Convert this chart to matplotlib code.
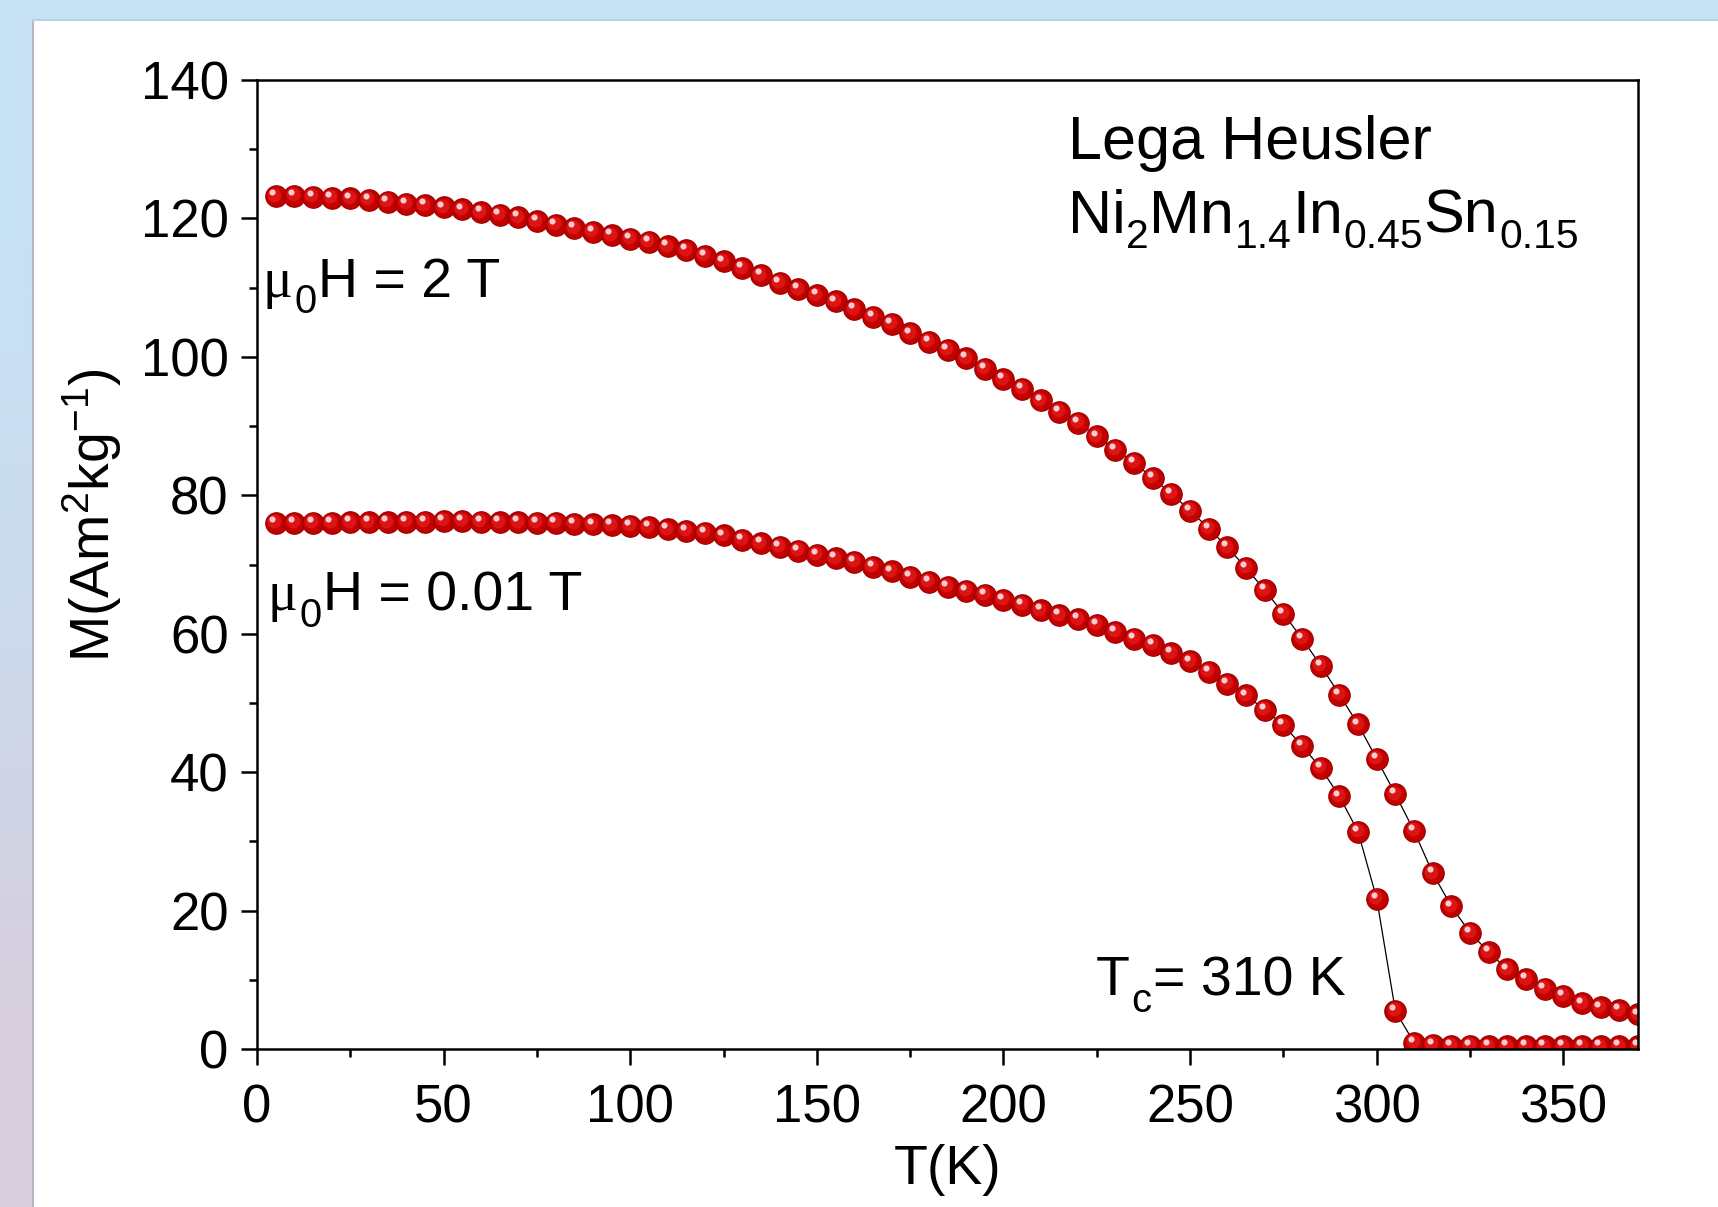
import numpy as np
import matplotlib
matplotlib.use('Agg')
from matplotlib import pyplot as plt
from matplotlib import rc
from matplotlib.patches import Rectangle
from matplotlib.transforms import offset_copy
from matplotlib.ticker import MultipleLocator

# Arial-like font, math text in the same font
rc('font', family='Liberation Sans')
rc('mathtext', fontset='custom', rm='Liberation Sans', it='Liberation Sans:italic',
   bf='Liberation Sans:bold', default='regular')

# temperature (K)
temps = [5, 10, 15, 20, 25, 30, 35, 40, 45, 50,
         55, 60, 65, 70, 75, 80, 85, 90, 95, 100,
         105, 110, 115, 120, 125, 130, 135, 140, 145, 150,
         155, 160, 165, 170, 175, 180, 185, 190, 195, 200,
         205, 210, 215, 220, 225, 230, 235, 240, 245, 250,
         255, 260, 265, 270, 275, 280, 285, 290, 295, 300,
         305, 310, 315, 320, 325, 330, 335, 340, 345, 350,
         355, 360, 365, 370]

# M at mu0H = 2 T
m_2T = [123.2, 123.3, 123.1, 123.0, 122.9, 122.7, 122.4, 122.1, 121.9, 121.6,
        121.3, 120.9, 120.5, 120.2, 119.6, 119.1, 118.6, 118.1, 117.6, 117.1,
        116.6, 116.0, 115.4, 114.6, 113.8, 112.8, 111.8, 110.7, 109.8, 108.9,
        108.0, 106.9, 105.8, 104.8, 103.4, 102.2, 101.0, 99.8, 98.3, 96.8,
        95.4, 93.7, 92.1, 90.5, 88.5, 86.6, 84.7, 82.5, 80.2, 77.8,
        75.2, 72.5, 69.5, 66.3, 62.9, 59.3, 55.4, 51.2, 46.9, 41.9,
        36.8, 31.5, 25.4, 20.6, 16.8, 14.0, 11.5, 10.1, 8.7, 7.7,
        6.6, 6.0, 5.6, 5.0]

# M at mu0H = 0.01 T
m_001T = [76.0, 76.0, 76.0, 76.0, 76.1, 76.1, 76.1, 76.2, 76.2, 76.3,
          76.3, 76.2, 76.1, 76.1, 76.0, 76.0, 75.9, 75.8, 75.7, 75.6,
          75.4, 75.1, 74.9, 74.6, 74.2, 73.6, 73.1, 72.6, 72.0, 71.4,
          70.9, 70.4, 69.7, 69.0, 68.2, 67.5, 66.8, 66.2, 65.6, 64.9,
          64.2, 63.4, 62.7, 62.1, 61.3, 60.3, 59.3, 58.4, 57.2, 56.0,
          54.5, 52.8, 51.1, 49.0, 46.8, 43.8, 40.6, 36.5, 31.4, 21.7,
          5.5, 0.9, 0.6, 0.5, 0.5, 0.4, 0.4, 0.4, 0.4, 0.4,
          0.4, 0.4, 0.4, 0.4]

fig = plt.figure(figsize=(17.18, 12.07), dpi=100)

# background: blue-to-lavender frame with a white sheet on top
bg = fig.add_axes([0, 0, 1, 1], zorder=-10)
bg.axis('off')
grad = np.array([[[0.78, 0.89, 0.96]], [[0.80, 0.86, 0.93]], [[0.84, 0.81, 0.87]]])
bg.imshow(grad, aspect='auto', extent=[0, 1, 0, 1], interpolation='bilinear')
bg.add_patch(Rectangle((33 / 1718, 0), 1, 1 - 20 / 1207, color='white', zorder=5))
bg.plot([33 / 1718, 33 / 1718], [0, 1 - 20 / 1207], color='#b9b3c4', lw=1.5, zorder=6)
bg.plot([33 / 1718, 1], [1 - 20 / 1207, 1 - 20 / 1207], color='#b5d3e6', lw=1.5, zorder=6)
bg.set_xlim(0, 1)
bg.set_ylim(0, 1)

ax = fig.add_axes([257 / 1718, 1 - 1049 / 1207, 1381 / 1718, 969 / 1207])
ax.set_facecolor('none')

hl_mid = offset_copy(ax.transData, fig=fig, x=-1.5, y=1.5, units='dots')
hl_top = offset_copy(ax.transData, fig=fig, x=-3.2, y=3.8, units='dots')

for m in (m_2T, m_001T):
    ax.plot(temps, m, color='black', lw=0.9, zorder=2)
    ax.plot(temps, m, ls='none', marker='o', ms=15.5, mfc='#c20000', mec='#9c0000',
            mew=0.8, zorder=3)
    ax.plot(temps, m, ls='none', marker='o', ms=10, mfc='#dc1414', mec='none',
            transform=hl_mid, zorder=3)
    ax.plot(temps, m, ls='none', marker='o', ms=4.4, mfc='#f7cdd2', mec='none',
            transform=hl_top, zorder=3)

ax.set_xlim(0, 370)
ax.set_ylim(0, 140)
ax.xaxis.set_major_locator(MultipleLocator(50))
ax.xaxis.set_minor_locator(MultipleLocator(25))
ax.yaxis.set_major_locator(MultipleLocator(20))
ax.yaxis.set_minor_locator(MultipleLocator(10))
ax.tick_params(which='both', direction='out', width=1.8, top=False, right=False)
ax.tick_params(which='major', length=11.5, labelsize=38)
ax.tick_params(axis='x', which='major', pad=13)
ax.tick_params(axis='y', which='major', pad=9)
ax.tick_params(which='minor', length=5.5)
for s in ax.spines.values():
    s.set_linewidth(1.8)
    s.set_zorder(4)

ax.set_xlabel('T(K)', fontsize=40)
ax.set_ylabel(r'M(Am$^2$kg$^{-1}$)', fontsize=40)
ax.xaxis.set_label_coords(0.5, -0.098)
ax.yaxis.set_label_coords(-0.096, 0.551)

renderer = fig.canvas.get_renderer()


def rich_text(x, y, pieces, size, drop=0.27, sub_scale=0.72, gap=1.5):
    # pieces: (text, is_subscript, family); laid out left to right
    dx = 0.0
    for s, sub, fam in pieces:
        fs = size * sub_scale if sub else size
        dy = -size * drop * fig.dpi / 72 if sub else 0.0
        tr = offset_copy(ax.transData, fig=fig, x=dx, y=dy, units='dots')
        t = ax.text(x, y, s, fontsize=fs, va='baseline', ha='left',
                    transform=tr, family=fam)
        dx += t.get_window_extent(renderer).width + gap


sans = 'Liberation Sans'
serif = 'Liberation Serif'
ax.text(217.3, 128.6, 'Lega Heusler', fontsize=44, va='baseline')
rich_text(217.3, 117.9, [('Ni', 0, sans), ('2', 1, sans), ('Mn', 0, sans), ('1.4', 1, sans),
                         ('In', 0, sans), ('0.45', 1, sans), ('Sn', 0, sans),
                         ('0.15', 1, sans)], 44, drop=0.24, sub_scale=0.67, gap=0.5)
rich_text(1.6, 108.7, [('\u03bc', 0, serif), ('0', 1, sans), ('H = 2 T', 0, sans)], 40, drop=0.3)
rich_text(2.9, 63.4, [('\u03bc', 0, serif), ('0', 1, sans), ('H = 0.01 T', 0, sans)], 40, drop=0.3)
rich_text(224.8, 7.8, [('T', 0, sans), ('c', 1, sans), ('= 310 K', 0, sans)], 40, drop=0.3)

fig.savefig('out.png', dpi=100)
